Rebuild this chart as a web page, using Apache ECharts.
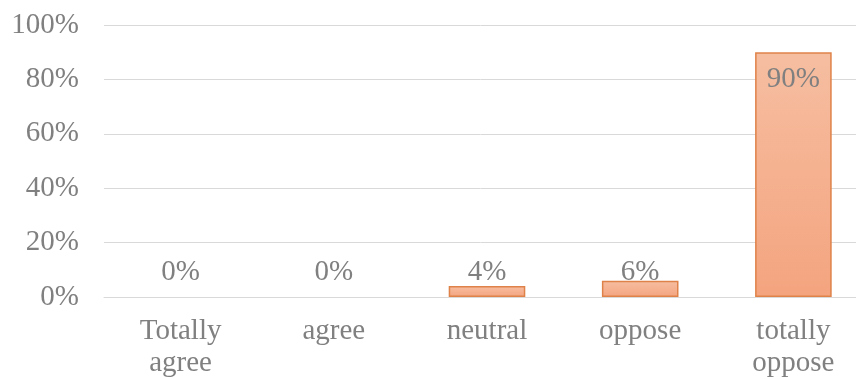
<!DOCTYPE html>
<html>
<head>
<meta charset="utf-8">
<script src="https://cdn.jsdelivr.net/npm/echarts@6/dist/echarts.min.js"></script>
<style>
  html, body { margin: 0; padding: 0; background: #ffffff; }
  #chart { width: 856px; height: 379px; }
</style>
</head>
<body>
<div id="chart"></div>
<script>
// Survey answers and the share of respondents for each
const categories = ['Totally\nagree', 'agree', 'neutral', 'oppose', 'totally\noppose'];
const shares = [0, 0, 4, 6, 90];
const yTicks = [0, 20, 40, 60, 80, 100];

const FONT = '"Liberation Serif", "Times New Roman", serif';
const TEXT_GREY = '#808080';
const FONT_SIZE = 29;

const chart = echarts.init(document.getElementById('chart'), null, { renderer: 'canvas' });

// Tall bars carry their label inside the top; empty bars get no outline
const barData = shares.map(v => ({
  value: v,
  itemStyle: v === 0 ? { borderWidth: 0 } : undefined,
  label: v > 50
    ? { position: 'insideTop', distance: 13 }
    : { position: 'top', distance: 4 }
}));

chart.setOption({
  animation: false,
  backgroundColor: '#ffffff',
  grid: { left: 104, right: -14, top: 25, bottom: 82, containLabel: false, outerBoundsMode: 'none' },
  xAxis: {
    type: 'category',
    data: categories,
    axisLine: { show: true, lineStyle: { color: '#d9d9d9', width: 1 } },
    axisTick: { show: false },
    axisLabel: {
      color: TEXT_GREY, fontFamily: FONT, fontSize: FONT_SIZE, lineHeight: 32,
      margin: 18, interval: 0
    }
  },
  yAxis: {
    type: 'value',
    min: yTicks[0],
    max: yTicks[yTicks.length - 1],
    interval: yTicks[1] - yTicks[0],
    axisLine: { show: false },
    axisTick: { show: false },
    axisLabel: {
      color: TEXT_GREY, fontFamily: FONT, fontSize: FONT_SIZE, margin: 25,
      formatter: v => v + '%'
    },
    splitLine: { lineStyle: { color: '#d9d9d9', width: 1 } }
  },
  series: [{
    type: 'bar',
    data: barData,
    barWidth: '50%',
    itemStyle: {
      color: new echarts.graphic.LinearGradient(0, 0, 0, 1, [
        { offset: 0, color: '#f6bea1' },
        { offset: 1, color: '#f4a47f' }
      ]),
      borderColor: '#df8249',
      borderWidth: 1.5
    },
    label: {
      show: true,
      color: TEXT_GREY,
      fontFamily: FONT,
      fontSize: FONT_SIZE,
      formatter: p => p.value + '%'
    },
    // short bars keep their value labels on one shared line just above the baseline
    labelLayout: params => {
      if (shares[params.dataIndex] > 50) return {};
      const zeroY = params.rect.y + params.rect.height;
      return {
        x: params.rect.x + params.rect.width / 2,
        y: zeroY - 25,
        align: 'center',
        verticalAlign: 'middle'
      };
    }
  }]
});
</script>
</body>
</html>
